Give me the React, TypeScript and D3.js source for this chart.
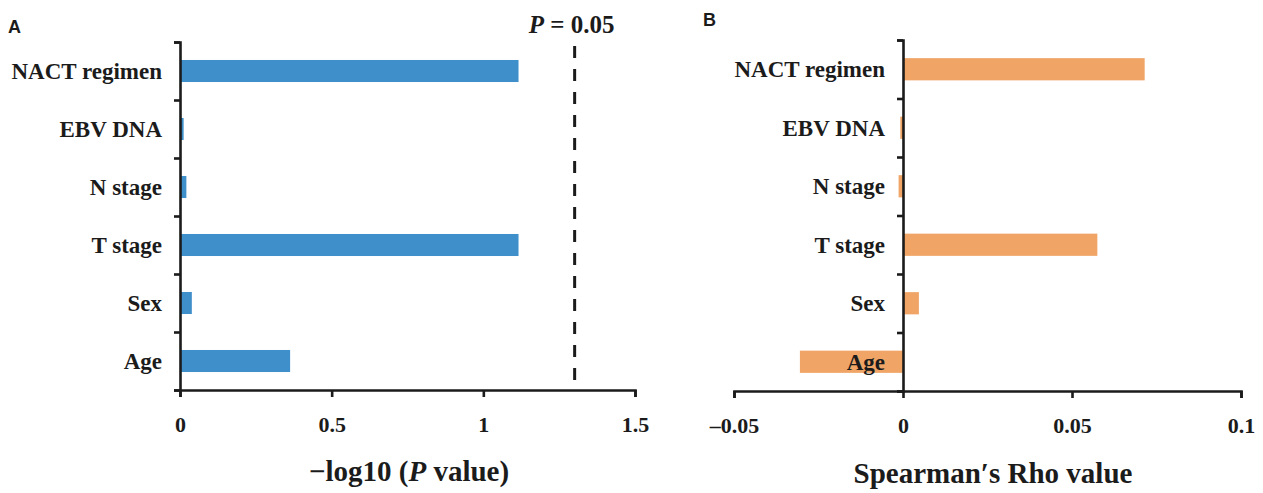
import React, { useEffect, useRef } from 'react';
import * as d3 from 'd3';

const categories = ['NACT regimen', 'EBV DNA', 'N stage', 'T stage', 'Sex', 'Age'];
const logPValues = [1.116, 0.012, 0.021, 1.116, 0.039, 0.363];
const rhoValues = [0.0715, -0.0008, -0.0013, 0.0575, 0.0047, -0.0305];
const ticksA = [0, 0.5, 1, 1.5];
const ticksB = [-0.05, 0, 0.05, 0.1];
const pCutoff = 0.05;

const SERIF = "'Liberation Serif', 'Times New Roman', serif";
const SANS = "'Liberation Sans', Arial, sans-serif";
const INK = '#1b1b1b';

const fmtB = (d) => (d === 0 ? '0' : d < 0 ? '\u2013' + Math.abs(d) : String(d));

const drawPanel = (g, opts) => {
  const { values, domain, ticks, left, right, top, bottom, zeroX, color, fmt } = opts;
  const x = d3.scaleLinear().domain(domain).range([left, right]);
  const y = d3.scaleBand().domain(categories).range([top, bottom]);
  const yIdx = d3.scaleLinear().domain([0, categories.length]).range([top, bottom]);
  const barH = y.bandwidth() * 0.38;
  const axisX = x(zeroX);

  // bars
  g.append('g')
    .selectAll('rect')
    .data(values)
    .join('rect')
    .attr('x', (d) => Math.min(x(0), x(d)))
    .attr('width', (d) => Math.abs(x(d) - x(0)))
    .attr('y', (d, i) => y(categories[i]) + (y.bandwidth() - barH) / 2)
    .attr('height', barH)
    .attr('fill', color);

  // x axis
  const xAxis = d3.axisBottom(x).tickValues(ticks).tickSize(7).tickSizeOuter(7).tickFormat(fmt);
  g.append('g')
    .attr('transform', `translate(0, ${bottom})`)
    .call(xAxis)
    .call((s) => s.select('.domain').attr('stroke', INK).attr('stroke-width', 2.6))
    .call((s) => s.selectAll('.tick line').attr('stroke', INK).attr('stroke-width', 2.6))
    .call((s) =>
      s
        .selectAll('.tick text')
        .attr('y', 42)
        .attr('dy', null)
        .attr('fill', INK)
        .style('font-family', SERIF)
        .style('font-weight', 'bold')
        .style('font-size', '22px')
    );

  // y axis (ticks on category boundaries)
  const yAxis = d3.axisLeft(yIdx).tickValues(d3.range(categories.length + 1)).tickSize(6).tickSizeOuter(6).tickFormat(() => '');
  g.append('g')
    .attr('transform', `translate(${axisX}, 0)`)
    .call(yAxis)
    .call((s) => s.select('.domain').attr('stroke', INK).attr('stroke-width', 2.6))
    .call((s) => s.selectAll('.tick line').attr('stroke', INK).attr('stroke-width', 2.6));

  // category labels
  g.append('g')
    .selectAll('text')
    .data(categories)
    .join('text')
    .attr('x', axisX - 18)
    .attr('y', (d) => y(d) + y.bandwidth() / 2 + 8)
    .attr('text-anchor', 'end')
    .attr('fill', INK)
    .style('font-family', SERIF)
    .style('font-weight', 'bold')
    .style('font-size', '23px')
    .text((d) => d);

  return x;
};

export default function App() {
  const svgRef = useRef(null);

  useEffect(() => {
    const svg = d3.select(svgRef.current);
    svg.selectAll('*').remove();

    // panel A
    const gA = svg.append('g');
    const xA = drawPanel(gA, {
      values: logPValues,
      domain: [0, 1.5],
      ticks: ticksA,
      left: 180,
      right: 635,
      top: 42,
      bottom: 390,
      zeroX: 0,
      color: '#3f8fcb',
      fmt: (d) => String(d),
    });
    const cut = -Math.log10(pCutoff);
    gA.append('line')
      .attr('x1', xA(cut))
      .attr('x2', xA(cut))
      .attr('y1', 46)
      .attr('y2', 390)
      .attr('stroke', INK)
      .attr('stroke-width', 3)
      .attr('stroke-dasharray', '12 11');
    const pLabel = gA.append('text')
      .attr('x', xA(cut) - 3)
      .attr('y', 33)
      .attr('text-anchor', 'middle')
      .attr('fill', INK)
      .style('font-family', SERIF)
      .style('font-weight', 'bold')
      .style('font-size', '25px');
    pLabel.append('tspan').style('font-style', 'italic').text('P');
    pLabel.append('tspan').text(` = ${pCutoff}`);
    const tA = gA.append('text')
      .attr('x', 409)
      .attr('y', 481)
      .attr('text-anchor', 'middle')
      .attr('fill', INK)
      .style('font-family', SERIF)
      .style('font-weight', 'bold')
      .style('font-size', '29px');
    tA.append('tspan').text('\u2212log10 (');
    tA.append('tspan').style('font-style', 'italic').text('P');
    tA.append('tspan').text(' value)');
    gA.append('text')
      .attr('x', 8)
      .attr('y', 33)
      .attr('fill', INK)
      .style('font-family', SANS)
      .style('font-weight', 'bold')
      .style('font-size', '18px')
      .text('A');

    // panel B
    const gB = svg.append('g');
    drawPanel(gB, {
      values: rhoValues,
      domain: [-0.05, 0.1],
      ticks: ticksB,
      left: 734,
      right: 1241,
      top: 40,
      bottom: 391,
      zeroX: 0,
      color: '#f0a466',
      fmt: fmtB,
    });
    gB.append('text')
      .attr('x', 993)
      .attr('y', 483)
      .attr('text-anchor', 'middle')
      .attr('fill', INK)
      .style('font-family', SERIF)
      .style('font-weight', 'bold')
      .style('font-size', '29px')
      .text('Spearman\u2032s Rho value');
    gB.append('text')
      .attr('x', 703)
      .attr('y', 26)
      .attr('fill', INK)
      .style('font-family', SANS)
      .style('font-weight', 'bold')
      .style('font-size', '18px')
      .text('B');
  }, []);

  return (
    <svg
      ref={svgRef}
      width={1263}
      height={493}
      style={{ position: 'absolute', left: 0, top: 0, background: '#fff' }}
    />
  );
}
